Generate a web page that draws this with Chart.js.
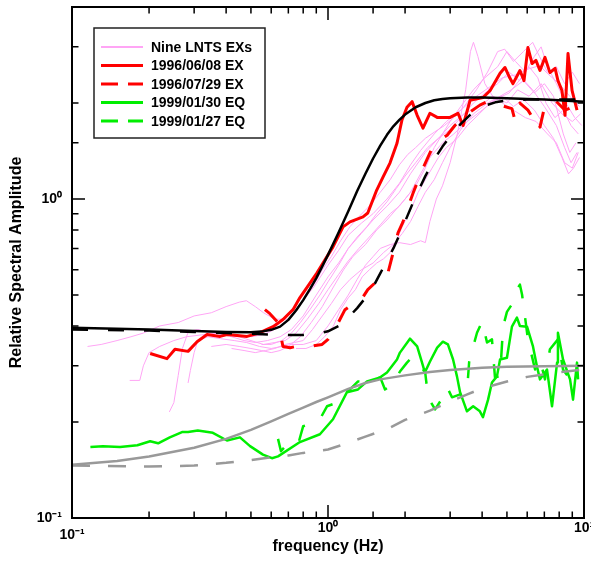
<!DOCTYPE html>
<html><head><meta charset="utf-8">
<script src="https://cdn.jsdelivr.net/npm/chart.js@4.4.1/dist/chart.umd.min.js"></script>
<style>html,body{margin:0;padding:0;background:#fff}#wrap{width:591px;height:568px}</style>
</head><body><div id="wrap"><canvas id="c" width="591" height="568"></canvas></div>
<script>
// ---- tick labels ----
const decades = [0.1, 1, 10];
const decadeLabels = ['10\u207B\u00B9', '10\u2070', '10\u00B9'];
const legendLabels = ['Nine LNTS EXs', '1996/06/08 EX', '1996/07/29 EX', '1999/01/30 EQ', '1999/01/27 EQ'];

// ---- model curves [frequency Hz, amplitude] ----
const modelExSolid = [[0.1,0.395],[0.2,0.39],[0.3,0.386],[0.4,0.383],[0.5,0.382],[0.55,0.384],[0.6,0.389],[0.65,0.398],[0.7,0.418],[0.75,0.447],[0.8,0.482],[0.85,0.522],[0.9,0.565],[0.95,0.615],[1.0,0.668],[1.1,0.785],[1.2,0.915],[1.3,1.06],[1.4,1.2],[1.5,1.34],[1.6,1.47],[1.7,1.59],[1.8,1.69],[1.9,1.77],[2.0,1.84],[2.2,1.94],[2.4,2.0],[2.6,2.04],[2.8,2.06],[3.0,2.07],[3.5,2.08],[4.0,2.08],[5.0,2.07],[6.0,2.06],[7.0,2.05],[8.0,2.04],[10,2.02]];
const modelExDashed = [[0.1,0.39],[0.2,0.387],[0.3,0.383],[0.4,0.38],[0.5,0.378],[0.6,0.376],[0.7,0.375],[0.8,0.375],[0.9,0.378],[1.0,0.385],[1.1,0.4],[1.2,0.425],[1.3,0.455],[1.4,0.49],[1.5,0.53],[1.6,0.585],[1.7,0.64],[1.8,0.70],[1.9,0.77],[2.0,0.85],[2.2,1.02],[2.4,1.18],[2.6,1.33],[2.8,1.46],[3.0,1.57],[3.3,1.72],[3.6,1.84],[4.0,1.95],[4.5,2.01],[5.0,2.04],[6.0,2.05],[8.0,2.05],[10,2.05]];
const modelEqSolid = [[0.1,0.147],[0.15,0.151],[0.2,0.156],[0.3,0.166],[0.4,0.177],[0.5,0.189],[0.6,0.201],[0.7,0.212],[0.8,0.222],[0.9,0.231],[1.0,0.239],[1.2,0.254],[1.4,0.265],[1.6,0.272],[2.0,0.28],[2.5,0.287],[3.0,0.291],[4.0,0.296],[5.0,0.298],[7.0,0.299],[10,0.30]];
const modelEqDashed = [[0.1,0.146],[0.2,0.145],[0.3,0.146],[0.4,0.149],[0.5,0.152],[0.6,0.155],[0.7,0.157],[0.8,0.16],[1.0,0.164],[1.2,0.172],[1.4,0.18],[1.7,0.19],[2.0,0.203],[2.5,0.217],[3.0,0.232],[3.5,0.244],[4.0,0.255],[5.0,0.268],[6.0,0.277],[7.0,0.282],[8.5,0.288],[10,0.292]];

// ---- observed ratios ----
const ex19960608 = [[0.202,0.328],[0.235,0.316],[0.2525,0.338],[0.284,0.333],[0.308,0.357],[0.337,0.376],[0.379,0.371],[0.403,0.376],[0.483,0.371],[0.542,0.381],[0.61,0.398],[0.667,0.419],[0.73,0.45],[0.777,0.491],[0.906,0.587],[1.046,0.708],[1.145,0.818],[1.219,0.848],[1.37,0.879],[1.43,0.904],[1.55,1.067],[1.64,1.172],[1.746,1.296],[1.86,1.496],[1.945,1.77],[2.035,1.94],[2.13,2.02],[2.23,1.83],[2.35,1.667],[2.5,1.857],[2.67,1.803],[3.0,1.803],[3.22,1.857],[3.37,1.70],[3.59,2.04],[4.03,2.08],[4.3,2.19],[4.7,2.48],[4.91,2.585],[5.14,2.39],[5.28,2.30],[5.62,2.53],[5.83,2.35],[6.04,2.985],[6.27,2.66],[6.49,2.72],[6.73,2.53],[7.04,2.78],[7.36,2.49],[7.71,2.57],[7.91,2.35],[8.2,2.19],[8.43,1.83],[8.66,2.86],[8.98,2.19],[9.39,1.90]];
const ex19960729 = [[0.567,0.45],[0.593,0.437],[0.638,0.41],[0.667,0.345],[0.711,0.342],[0.777,0.347],[0.851,0.345],[0.948,0.35],[1.0,0.363],[1.046,0.381],[1.165,0.45],[1.24,0.466],[1.334,0.477],[1.43,0.52],[1.527,0.546],[1.70,0.571],[1.795,0.678],[1.877,0.783],[1.963,0.848],[2.035,0.924],[2.15,1.044],[2.25,1.147],[2.35,1.25],[2.55,1.443],[2.74,1.53],[2.92,1.585],[3.13,1.70],[3.43,1.83],[3.92,1.97],[4.3,2.04],[4.7,1.97],[5.23,1.92],[5.37,1.77],[5.62,2.0],[6.04,1.90],[6.32,1.79],[6.55,1.83],[6.73,1.68],[7.04,1.97],[7.71,2.04],[8.43,1.9],[9.48,1.97]];
const eq19990130 = [[0.118,0.167],[0.132,0.168],[0.154,0.167],[0.18,0.169],[0.202,0.174],[0.217,0.1715],[0.241,0.179],[0.269,0.186],[0.284,0.186],[0.31,0.188],[0.355,0.185],[0.403,0.175],[0.453,0.179],[0.496,0.168],[0.557,0.158],[0.604,0.154],[0.638,0.156],[0.777,0.173],[0.93,0.183],[1.046,0.204],[1.186,0.248],[1.31,0.253],[1.42,0.268],[1.6,0.276],[1.70,0.286],[1.86,0.314],[1.91,0.33],[2.09,0.365],[2.23,0.345],[2.33,0.307],[2.39,0.286],[2.5,0.309],[2.67,0.342],[2.81,0.357],[2.94,0.35],[3.08,0.314],[3.19,0.278],[3.28,0.248],[3.49,0.216],[3.69,0.224],[3.92,0.216],[4.03,0.207],[4.22,0.235],[4.37,0.266],[4.57,0.278],[4.7,0.314],[5.0,0.318],[5.23,0.398],[5.47,0.425],[5.62,0.40],[5.99,0.398],[6.32,0.345],[6.55,0.2985],[6.73,0.272],[7.17,0.292],[7.5,0.224],[7.85,0.307],[7.91,0.381],[8.28,0.314],[8.82,0.272],[9.06,0.235],[9.39,0.307],[9.48,0.272]];
const eq19990127 = [[0.638,0.177],[0.655,0.162],[0.692,0.17],[0.73,0.168],[0.764,0.17],[0.80,0.194],[0.851,0.197],[0.93,0.204],[0.991,0.224],[1.084,0.23],[1.145,0.248],[1.219,0.253],[1.31,0.268],[1.42,0.266],[1.6,0.276],[1.67,0.253],[1.795,0.262],[1.91,0.288],[2.035,0.307],[2.09,0.314],[2.19,0.303],[2.29,0.286],[2.39,0.292],[2.46,0.239],[2.62,0.219],[2.81,0.239],[2.92,0.257],[3.05,0.239],[3.28,0.244],[3.49,0.248],[3.56,0.309],[3.65,0.333],[3.82,0.381],[4.0,0.413],[4.18,0.355],[4.37,0.363],[4.49,0.276],[4.7,0.278],[4.83,0.398],[5.0,0.443],[5.28,0.473],[5.47,0.52],[5.62,0.539],[5.73,0.501],[6.04,0.363],[6.44,0.292],[6.73,0.314],[7.04,0.272],[7.36,0.338],[7.91,0.363],[8.28,0.292],[8.82,0.272],[9.48,0.303]];

// ---- nine LNTS explosions ----
const lnts1 = [[0.115,0.345],[0.13,0.35],[0.15,0.36],[0.17,0.37],[0.19,0.38],[0.22,0.40],[0.26,0.41],[0.3,0.43],[0.35,0.44],[0.4,0.46],[0.45,0.475],[0.48,0.48],[0.52,0.46],[0.56,0.44],[0.62,0.42],[0.7,0.42],[0.78,0.47],[0.88,0.53],[1.0,0.62],[1.1,0.69],[1.2,0.77],[1.35,0.84],[1.5,0.9],[1.7,1.0],[1.9,1.12],[2.1,1.28],[2.3,1.42],[2.6,1.6],[2.9,1.75],[3.3,1.9],[3.8,2.1],[4.3,2.25],[4.8,2.4],[5.4,2.45],[6.0,2.55],[6.7,2.62],[7.3,2.45],[8.0,2.3],[8.8,2.1],[9.6,1.95]];
const lnts2 = [[0.168,0.27],[0.184,0.27],[0.19,0.30],[0.2,0.33],[0.22,0.345],[0.25,0.36],[0.28,0.37],[0.32,0.375],[0.37,0.38],[0.42,0.37],[0.47,0.36],[0.52,0.355],[0.58,0.36],[0.65,0.37],[0.72,0.39],[0.8,0.43],[0.9,0.5],[1.0,0.57],[1.1,0.63],[1.2,0.7],[1.35,0.78],[1.5,0.86],[1.7,0.95],[1.9,1.05],[2.1,1.2],[2.4,1.4],[2.7,1.55],[3.0,1.7],[3.4,1.85],[3.9,1.95],[4.4,2.1],[5.0,2.0],[5.5,2.2],[6.1,2.1],[6.8,2.3],[7.5,2.0],[8.2,1.85],[9.0,1.75],[9.7,1.85]];
const lnts3 = [[0.24,0.215],[0.25,0.23],[0.26,0.28],[0.27,0.34],[0.285,0.385],[0.31,0.39],[0.35,0.38],[0.4,0.375],[0.45,0.37],[0.5,0.36],[0.56,0.35],[0.62,0.355],[0.68,0.36],[0.75,0.38],[0.83,0.42],[0.92,0.47],[1.0,0.52],[1.1,0.58],[1.2,0.64],[1.32,0.7],[1.45,0.76],[1.6,0.83],[1.75,0.9],[1.9,0.95],[2.1,1.05],[2.3,1.2],[2.5,1.35],[2.8,1.5],[3.1,1.6],[3.5,1.75],[4.0,1.9],[4.5,2.05],[5.1,2.15],[5.7,2.4],[6.3,2.2],[7.0,1.95],[7.8,1.7],[8.4,1.45],[8.9,1.3],[9.4,1.4]];
const lnts4 = [[0.284,0.265],[0.29,0.29],[0.3,0.33],[0.31,0.36],[0.34,0.37],[0.38,0.365],[0.43,0.36],[0.48,0.355],[0.54,0.345],[0.6,0.34],[0.66,0.345],[0.72,0.35],[0.8,0.35],[0.9,0.36],[1.0,0.40],[1.1,0.45],[1.2,0.5],[1.3,0.56],[1.4,0.62],[1.5,0.66],[1.6,0.7],[1.75,0.72],[1.9,0.73],[2.1,0.72],[2.3,0.74],[2.4,0.73],[2.5,0.85],[2.65,1.0],[2.8,1.1],[3.0,1.3],[3.2,1.6],[3.45,2.2],[3.6,2.9],[3.7,3.1],[3.85,2.8],[4.1,2.3],[4.4,2.1],[4.8,2.0],[5.3,1.9],[5.9,1.8],[6.5,1.75],[7.2,1.6],[7.8,1.5],[8.4,1.3],[9.0,1.25],[9.5,1.4]];
const lnts5 = [[0.35,0.345],[0.4,0.35],[0.45,0.345],[0.5,0.34],[0.55,0.335],[0.6,0.33],[0.65,0.335],[0.7,0.345],[0.78,0.37],[0.86,0.41],[0.95,0.46],[1.05,0.53],[1.15,0.6],[1.25,0.66],[1.4,0.72],[1.55,0.8],[1.7,0.86],[1.85,0.93],[2.0,1.0],[2.2,1.1],[2.4,1.25],[2.6,1.45],[2.8,1.6],[3.0,1.75],[3.3,1.95],[3.7,2.2],[4.1,2.4],[4.6,2.6],[5.0,2.9],[5.4,2.7],[5.9,2.5],[6.4,2.8],[6.8,3.0],[7.2,2.6],[7.8,2.3],[8.5,2.0],[9.2,1.8],[9.8,1.7]];
const lnts6 = [[0.42,0.34],[0.47,0.335],[0.52,0.33],[0.57,0.335],[0.62,0.34],[0.68,0.35],[0.74,0.355],[0.8,0.36],[0.87,0.39],[0.95,0.43],[1.03,0.47],[1.12,0.52],[1.22,0.56],[1.35,0.6],[1.5,0.63],[1.65,0.68],[1.8,0.72],[1.95,0.78],[2.1,0.85],[2.25,0.95],[2.4,1.05],[2.6,1.15],[2.8,1.3],[3.0,1.45],[3.3,1.65],[3.7,1.85],[4.2,2.0],[4.7,2.1],[5.2,2.2],[5.8,2.35],[6.4,2.15],[7.0,2.3],[7.6,2.1],[8.3,1.6],[8.8,1.4],[9.3,1.5]];
const lnts7 = [[0.5,0.37],[0.55,0.375],[0.6,0.385],[0.65,0.40],[0.7,0.42],[0.75,0.45],[0.8,0.48],[0.87,0.53],[0.95,0.6],[1.03,0.66],[1.12,0.74],[1.22,0.82],[1.32,0.88],[1.45,0.95],[1.6,1.05],[1.75,1.15],[1.9,1.28],[2.05,1.38],[2.2,1.45],[2.4,1.55],[2.6,1.62],[2.85,1.7],[3.1,1.8],[3.4,1.95],[3.8,2.2],[4.2,2.5],[4.6,2.9],[4.9,2.95],[5.3,2.7],[5.8,2.9],[6.3,3.1],[6.7,2.8],[7.2,2.5],[7.8,2.6],[8.4,2.3],[9.0,2.5],[9.6,2.3]];
const lnts8 = [[0.55,0.35],[0.6,0.35],[0.66,0.36],[0.72,0.38],[0.78,0.41],[0.85,0.45],[0.93,0.5],[1.0,0.55],[1.1,0.62],[1.2,0.7],[1.3,0.76],[1.42,0.82],[1.55,0.9],[1.7,0.98],[1.85,1.08],[2.0,1.18],[2.2,1.3],[2.45,1.45],[2.7,1.55],[3.0,1.65],[3.3,1.8],[3.7,2.0],[4.1,2.15],[4.6,2.3],[5.1,2.5],[5.6,2.35],[6.1,2.6],[6.6,2.4],[7.1,2.0],[7.7,1.8],[8.3,1.9],[8.9,1.7],[9.5,1.6]];
const lnts9 = [[0.75,0.34],[0.82,0.34],[0.9,0.35],[0.97,0.37],[1.05,0.4],[1.12,0.45],[1.2,0.49],[1.28,0.52],[1.36,0.57],[1.45,0.6],[1.55,0.63],[1.65,0.65],[1.75,0.68],[1.85,0.74],[1.95,0.82],[2.1,0.92],[2.25,1.05],[2.4,1.15],[2.55,1.25],[2.7,1.35],[2.9,1.45],[3.2,1.55],[3.5,1.7],[3.9,1.85],[4.3,2.0],[4.8,2.1],[5.3,1.95],[5.8,2.05],[6.4,1.9],[7.0,1.7],[7.6,1.55],[8.2,1.35],[8.7,1.2],[9.1,1.25],[9.6,1.35]];
const lntsSeries = [lnts1, lnts2, lnts3, lnts4, lnts5, lnts6, lnts7, lnts8, lnts9];

// ---- styles ----
const PINK = 'rgb(255,165,245)', RED = '#ff0000', GREEN = '#00ee00', BLACK = '#000000', GRAY = '#999999';
const FONT = "'Liberation Sans', Arial, Helvetica, sans-serif";
const toXY = arr => arr.map(p => ({x: p[0], y: p[1]}));
function ds(label, arr, color, width, dash) {
  return {label, data: toXY(arr), borderColor: color, backgroundColor: color, borderWidth: width,
    borderDash: dash || [], pointRadius: 0, tension: 0, fill: false, borderJoinStyle: 'round'};
}
const datasets = [
  ds('EX model solid', modelExSolid, BLACK, 2.5),
  ds('EX model dashed', modelExDashed, BLACK, 2.5, [16, 20]),
  ds('EQ model solid', modelEqSolid, GRAY, 2.5),
  ds('EQ model dashed', modelEqDashed, GRAY, 2.5, [18, 18]),
  ds(legendLabels[2], ex19960729, RED, 3, [17, 20]),
  ds(legendLabels[1], ex19960608, RED, 3),
  ds(legendLabels[4], eq19990127, GREEN, 2.5, [17, 20]),
  ds(legendLabels[3], eq19990130, GREEN, 2.5),
];
lntsSeries.forEach((s, i) => datasets.push(ds(legendLabels[0] + ' ' + (i + 1), s, PINK, 1)));

const legendItems = [
  {text: legendLabels[0], color: PINK, width: 2, dash: []},
  {text: legendLabels[1], color: RED, width: 3, dash: []},
  {text: legendLabels[2], color: RED, width: 3, dash: [17, 10]},
  {text: legendLabels[3], color: GREEN, width: 3, dash: []},
  {text: legendLabels[4], color: GREEN, width: 3, dash: [17, 10]},
];

function decadeLabel(v) {
  for (let i = 0; i < decades.length; i++) {
    if (Math.abs(Math.log10(v) - Math.log10(decades[i])) < 1e-6) return decadeLabels[i];
  }
  return '';
}
function isDecade(v) { const l = Math.log10(v); return Math.abs(l - Math.round(l)) < 1e-6; }

const framePlugin = {
  id: 'frame',
  afterDatasetsDraw(chart) {
    const {ctx, chartArea: a, scales: {x, y}} = chart;
    ctx.save();
    ctx.strokeStyle = '#000';
    ctx.lineWidth = 1.5;
    x.ticks.forEach(t => {
      const px = x.getPixelForValue(t.value);
      if (px <= a.left + 1 || px >= a.right - 1) return;
      const len = isDecade(t.value) ? 13 : 6.5;
      ctx.beginPath();
      ctx.moveTo(px, a.bottom); ctx.lineTo(px, a.bottom - len);
      ctx.moveTo(px, a.top); ctx.lineTo(px, a.top + len);
      ctx.stroke();
    });
    y.ticks.forEach(t => {
      const py = y.getPixelForValue(t.value);
      if (py <= a.top + 1 || py >= a.bottom - 1) return;
      const len = isDecade(t.value) ? 13 : 6.5;
      ctx.beginPath();
      ctx.moveTo(a.left, py); ctx.lineTo(a.left + len, py);
      ctx.moveTo(a.right, py); ctx.lineTo(a.right - len, py);
      ctx.stroke();
    });
    ctx.lineWidth = 2;
    ctx.strokeRect(a.left, a.top, a.right - a.left, a.bottom - a.top);
    // legend
    const lx = 94, ly = 28, lw = 171, lh = 110;
    ctx.fillStyle = '#fff';
    ctx.fillRect(lx, ly, lw, lh);
    ctx.lineWidth = 1.5;
    ctx.strokeStyle = '#222';
    ctx.strokeRect(lx, ly, lw, lh);
    ctx.font = "bold 14px " + FONT;
    ctx.textBaseline = 'middle';
    ctx.textAlign = 'left';
    legendItems.forEach((it, i) => {
      const yy = 47 + i * 18.5;
      ctx.beginPath();
      ctx.strokeStyle = it.color;
      ctx.lineWidth = it.width;
      ctx.setLineDash(it.dash);
      ctx.moveTo(101, yy); ctx.lineTo(143, yy);
      ctx.stroke();
      ctx.setLineDash([]);
      ctx.fillStyle = '#000';
      ctx.fillText(it.text, 151, yy + 1);
    });
    ctx.restore();
  }
};

new Chart(document.getElementById('c'), {
  type: 'line',
  data: {datasets},
  plugins: [framePlugin],
  options: {
    responsive: false,
    animation: false,
    devicePixelRatio: 1,
    layout: {padding: {top: 7, right: 7, left: 0, bottom: 0}},
    plugins: {legend: {display: false}, tooltip: {enabled: false}},
    scales: {
      x: {
        type: 'logarithmic', min: 0.1, max: 10, position: 'bottom',
        grid: {display: false}, border: {display: false},
        ticks: {autoSkip: false, maxRotation: 0, minRotation: 0, padding: -6, color: '#000',
          font: c => ({family: FONT, size: 14, weight: 'bold',
            lineHeight: (c.tick && Math.abs(c.tick.value - decades[0]) < 1e-9) ? 2.2 : 1.2}),
          callback: v => decadeLabel(v)},
        title: {display: true, text: 'frequency (Hz)', color: '#000',
          font: {family: FONT, size: 16, weight: 'bold'}, padding: {top: 0, bottom: 12}},
        afterFit(s) { s.height = 50; s.paddingLeft = 0; s.paddingRight = 0; }
      },
      y: {
        type: 'logarithmic', min: 0.1, max: 4, position: 'left',
        grid: {display: false}, border: {display: false},
        ticks: {autoSkip: false, padding: 2, color: '#000',
          font: {family: FONT, size: 14, weight: 'bold'}, callback: v => decadeLabel(v)},
        title: {display: true, text: 'Relative Spectral Amplitude', color: '#000',
          font: {family: FONT, size: 16, weight: 'bold'}, padding: {top: 7, bottom: 0}},
        afterFit(s) { s.width = 72; s.paddingTop = 0; s.paddingBottom = 0; }
      }
    }
  }
});
</script>
</body></html>
